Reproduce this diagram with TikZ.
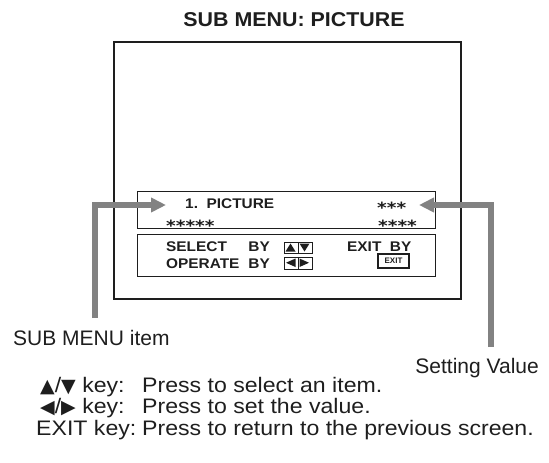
\documentclass[tikz,border=0pt]{standalone}
\usepackage{fontspec}
\setmainfont{Liberation Sans}
\newfontfamily\titlefont[FakeStretch=1.07]{Liberation Sans}
\newfontfamily\boxfont[FakeStretch=1.1]{Liberation Sans}
\newfontfamily\notefont[FakeStretch=1.1]{Liberation Sans}
\newfontfamily\starfont[FakeStretch=1.2]{DejaVu Sans}
\newfontfamily\symfont{DejaVu Sans}
\usetikzlibrary{arrows.meta}
\definecolor{ink}{RGB}{30,30,30}
\definecolor{pointer}{RGB}{130,130,130}
\newcommand\keysym[1]{{\symfont\fontsize{19}{19}\selectfont #1}}
\tikzset{
  txt/.style={inner sep=0pt, text=ink},
  boxtxt/.style={txt, font=\boxfont\bfseries\fontsize{14}{14}\selectfont},
  startxt/.style={txt, font=\starfont\bfseries\fontsize{15.4}{15.4}\selectfont},
  labeltxt/.style={txt, font=\fontsize{21}{21}\selectfont},
  notetxt/.style={txt, font=\notefont\fontsize{21}{21}\selectfont},
  panel/.style={draw=ink, line width=1pt, inner sep=0pt, anchor=north west},
  keysq/.style={draw=ink, line width=0.9pt, inner sep=0pt, anchor=north west, minimum width=14pt, minimum height=11.5pt},
  pointerarrow/.style={draw=pointer, line width=6pt, line join=miter, -{Triangle[length=15pt,width=14pt]}},
}
\begin{document}
\begin{tikzpicture}[x=1pt,y=-1pt]
\useasboundingbox (0,0) rectangle (549,463);
% title
\node[txt, anchor=base, font=\titlefont\bfseries\fontsize{20}{20}\selectfont] (title) at (294,26) {SUB MENU: PICTURE};
% screen
\node[draw=ink, line width=2.2pt, inner sep=0pt, anchor=north west, minimum width=347pt, minimum height=257pt] (screen) at (113,41) {};
\node[panel, minimum width=298pt, minimum height=37pt] (itembox) at (137,191) {};
\node[panel, minimum width=298pt, minimum height=42pt] (helpbox) at (137,234) {};
% item box text
\node[boxtxt, anchor=base west] (itemname) at (185,208) {1.\ \ PICTURE};
\node[startxt, anchor=base west] (itemsub) at (166,231.5) {*****};
\node[startxt, anchor=base west] (valtop) at (377,213.5) {***};
\node[startxt, anchor=base west] (valbot) at (378,231.5) {****};
% help box text
\node[boxtxt, anchor=base west] (sel) at (166,251) {SELECT};
\node[boxtxt, anchor=base east] (selby) at (270,251) {BY};
\node[boxtxt, anchor=base west] (exitby) at (347,251) {EXIT\ \ BY};
\node[boxtxt, anchor=base west] (opr) at (166,268) {OPERATE};
\node[boxtxt, anchor=base east] (oprby) at (270,268) {BY};
% key icons
\node[keysq] (kup) at (283.5,241.5) {};
\node[keysq] (kdown) at (297.5,241.5) {};
\node[keysq] (kleft) at (283.5,257) {};
\node[keysq] (kright) at (297.5,257) {};
\fill[ink] (285.5,251.5) -- (295.5,251.5) -- (290.5,243.5) -- cycle;
\fill[ink] (299.5,243.5) -- (309.5,243.5) -- (304.5,251.5) -- cycle;
\fill[ink] (295.5,258.5) -- (295.5,267) -- (286,262.75) -- cycle;
\fill[ink] (299.5,258.5) -- (299.5,267) -- (309,262.75) -- cycle;
\node[draw=ink, line width=1.4pt, inner sep=0pt, minimum width=31pt, minimum height=14pt, text=ink, font=\bfseries\fontsize{8}{8}\selectfont] (exitkey) at (393.5,261) {EXIT};
% labels
\node[labeltxt, anchor=base west] (lblitem) at (13,345) {SUB MENU item};
\node[labeltxt, anchor=base east] (lblvalue) at (539,373) {Setting Value};
% pointers
\coordinate (lfoot) at (94.5,318);
\coordinate (ltip) at (166,205);
\coordinate (rfoot) at (490.5,347);
\coordinate (rtip) at (419,205);
\draw[pointerarrow] (lfoot) |- (ltip);
\draw[pointerarrow] (rfoot) |- (rtip);
% notes
\node[notetxt, anchor=base west] (k1) at (40,392) {\keysym{▲}/\keysym{▼} key:};
\node[notetxt, anchor=base west] (d1) at (142,392) {Press to select an item.};
\node[notetxt, anchor=base west] (k2) at (40,413) {\keysym{◀}/\keysym{▶} key:};
\node[notetxt, anchor=base west] (d2) at (142,413) {Press to set the value.};
\node[notetxt, anchor=base west] (k3) at (36,435) {EXIT key:};
\node[notetxt, anchor=base west] (d3) at (142,435) {Press to return to the previous screen.};
\end{tikzpicture}
\end{document}
